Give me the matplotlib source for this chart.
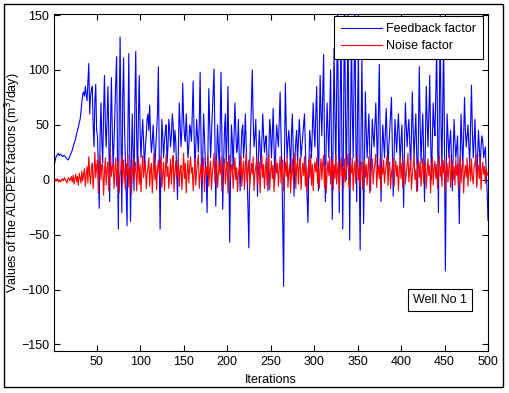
import numpy as np
import matplotlib.pyplot as plt
from matplotlib.patches import Rectangle

plt.rcParams['font.family'] = ['Liberation Sans', 'DejaVu Sans']
plt.rcParams['font.size'] = 9

iterations = np.arange(1, 501)

# feedback factor, one value per iteration (rows of 20)
feedback = [
    12, 16, 20, 22, 23, 24, 22, 23, 23, 22, 21, 22, 22, 21, 20, 19, 18, 19, 21, 23,
    25, 27, 30, 33, 35, 38, 42, 45, 48, 52, 55, 62, 70, 78, 80, 76, 85, 78, 72, 88,
    106, 60, 76, 82, 85, 50, 30, 72, 87, 45, 40, 10, -26, 40, 70, 35, 15, 60, 95, 50,
    30, 55, 85, 40, -20, 50, 93, 45, 10, 35, 60, 90, 112, 20, -45, 60, 130, 40, -30, 75,
    111, 50, 20, -10, -42, 45, 115, 30, -38, 20, 60, 25, -10, 70, 117, 40, 5, 55, 95, 45,
    20, 40, 55, 35, 10, 30, 40, 55, 60, 45, 68, 40, 25, 35, 50, 30, 10, 30, 45, 60,
    103, 20, -45, 15, 55, 40, 20, 35, 45, 50, 15, 30, 55, 45, 30, 40, 60, 50, 25, 45,
    35, 10, -18, 25, 70, 50, 30, 45, 88, 55, 40, 35, 60, 40, 20, 30, 50, 45, 35, 60,
    90, 45, 10, 30, 55, 40, 25, 50, 98, 35, -21, 20, 60, 40, 15, 5, -30, 30, 83, 50,
    20, 40, 60, 80, 101, 35, -24, 20, 50, 30, 10, 45, 98, 40, -27, 15, 45, 60, 15, 40,
    85, 10, -57, 5, 50, 35, 10, 40, 70, 45, 25, 30, 55, 20, -10, 25, 45, 50, 20, 35,
    60, 30, 5, -25, -62, 10, 40, 70, 100, 55, 30, 40, 55, 20, -15, 20, 45, 30, 10, 35,
    60, 40, 25, 35, 40, 15, -10, 25, 55, 45, 20, 40, 65, 30, 0, 30, 50, 40, 30, 55,
    80, 40, 10, -40, -97, 20, 88, 50, 20, 35, 45, 30, 5, 40, 60, 30, -15, 20, 35, 45,
    15, 35, 55, 40, 20, 30, 40, 50, 60, 30, 5, -15, -39, 10, 45, 35, 20, 45, 70, 45,
    30, 60, 85, 40, -10, 45, 95, 60, 40, 80, 114, 30, -20, 35, 70, 45, 20, 60, 100, 30,
    -36, 40, 120, 60, 10, 80, 160, 50, -30, 70, 140, 30, -45, 60, 165, 70, 0, 60, 150, 40,
    -55, 50, 130, 60, 20, 90, 160, 40, -20, 60, 120, 10, -64, 40, 110, 30, -40, 20, 80, 45,
    20, 40, 60, 30, -10, 25, 55, 40, 30, 50, 70, 40, 10, 60, 105, 40, -20, 20, 50, 35,
    20, 45, 65, 35, 10, 30, 45, 60, 75, 30, -15, 20, 55, 40, 25, 45, 60, 40, 15, 35,
    50, 15, -25, 30, 70, 50, 30, 45, 55, 35, 10, 40, 80, 45, 20, 40, 60, 25, -10, 40,
    103, 50, 15, 40, 60, 25, -20, 30, 85, 55, 30, 60, 95, 40, 0, 35, 70, 50, 40, 80,
    120, 40, -30, 60, 150, 50, 10, 70, 130, 20, -83, 10, 60, 40, 20, 35, 45, 20, -10, 25,
    55, 35, 20, 30, 40, 0, -40, 20, 60, 35, 10, 40, 75, 45, 30, 40, 50, 30, 15, 50,
    86, 45, 20, 35, 55, 25, -5, 20, 45, 30, 10, 30, 40, 35, 20, 25, 30, 5, -10, -37,
]

# noise factor, one value per iteration (rows of 20)
noise = [
    0, 1, -1, 0, 1, -2, 0, -1, -2, 0, 1, -1, 2, 0, -1, -3, 1, 2, -1, 0,
    3, -2, 4, -4, 1, 5, -2, 3, -5, 6, 2, -3, 8, -1, 5, 10, -6, 4, 12, -3,
    21, 5, -4, 10, 15, -8, 6, 25, 2, 12, 18, -12, 8, 22, 0, 14, 12, -14, 6, 20,
    -5, 10, 16, -10, 4, 24, 3, 12, 14, -8, 8, 20, -6, 10, 17, -12, 5, 10, 22, -3,
    18, 4, -9, 15, 4, 23, -7, 10, 12, -13, 5, 19, 1, 8, 16, -10, 7, 21, -4, 14,
    -11, 8, 22, 2, 10, 17, -8, 5, 11, 20, -6, 9, 15, -12, 6, 24, 0, 13, -9, 10,
    18, 5, 10, 21, -7, 6, 16, -10, 8, 23, 3, 12, -8, 4, 19, -4, 14, 22, -11, 7,
    17, 2, 10, 20, -6, 8, 13, -9, 5, 24, 1, 15, -12, 6, 18, -3, 12, 21, 6, 11,
    -10, 5, 19, -5, 8, 16, 23, -8, 4, 14, 0, 10, 20, -11, 7, 12, 4, 22, -6, 10,
    17, -9, 6, 13, 24, -2, 9, 18, -7, 5, 15, 5, 21, -10, 8, 12, 19, -4, 10, 16,
    -12, 7, 22, 2, 12, 14, -8, 6, 20, 0, 11, -11, 6, 12, 4, 22, -6, 9, 17, -9,
    13, 24, -2, 8, 18, -7, 5, 15, 5, 21, -10, 6, 12, 19, -4, 8, 16, -12, 10, 22,
    2, 14, -8, 9, 20, -5, 11, 23, -9, 7, 17, 1, 13, -11, 8, 19, 6, 15, -6, 10,
    21, -3, 12, 18, -10, 6, 16, 3, 22, -7, 8, 14, -12, 5, 19, 0, 10, 24, -8, 12,
    17, -4, 13, 20, -9, 6, 15, 4, 21, -6, 11, -11, 8, 18, 2, 23, -5, 14, -10, 9,
    16, 7, 20, -3, 12, -8, 10, 19, 0, 15, 22, -7, 13, -12, 6, 17, 4, 21, -4, 11,
    18, -9, 14, 1, 23, -4, 9, 16, -11, 10, 20, 3, 12, -7, 19, -2, 8, 15, 24, -6,
    -8, 13, 6, 20, -10, 9, 17, -3, 11, 22, 0, 11, -6, 14, 16, -9, 7, 18, 2, 14,
    -5, 10, 21, -12, 6, 12, 19, -4, 9, 15, 23, -7, 8, 13, 1, 20, -9, 11, 5, 18,
    -3, 7, 14, 22, -5, 10, 16, -8, 6, 12, 20, -6, 9, 17, 3, 13, -10, 8, 21, 1,
    15, -7, 11, 19, -4, 6, 13, 24, -2, 10, 17, -9, 5, 14, 22, 0, 9, -11, 12, 18,
    2, 16, -6, 8, 20, -3, 11, 15, -8, 7, 19, 4, 13, -12, 9, 21, -5, 10, 17, 1,
    14, -8, 10, 22, 3, 12, -6, 18, 6, 20, -10, 8, 15, -2, 11, 23, -7, 9, 16, 0,
    12, -5, 19, 4, 14, -9, 8, 21, -3, 11, 17, -12, 6, 13, 2, 20, -6, 10, 15, -1,
    19, 3, -4, 12, 15, 23, -7, 9, 13, 1, 20, -9, 8, 16, 5, 12, -3, 10, 6, 4,
]

x_ticks = [50, 100, 150, 200, 250, 300, 350, 400, 450, 500]
y_ticks = [-150, -100, -50, 0, 50, 100, 150]

fig = plt.figure(figsize=(5.09, 3.93), dpi=100)
fig.patch.set_facecolor('white')
# outer frame round the whole figure
fig.patches.append(Rectangle((4 / 509, 6 / 393), 499 / 509, 383 / 393, transform=fig.transFigure,
                             fill=False, edgecolor='black', linewidth=1))

ax = fig.add_axes([54 / 509, 42 / 393, 434 / 509, 337 / 393])
ax.plot(iterations, feedback, color=(0, 0, 1), lw=0.8, label='Feedback factor')
ax.plot(iterations, noise, color=(1, 0, 0), lw=0.8, label='Noise factor')

ax.set_xlim(1, 500)
ax.set_ylim(-156, 151)
ax.set_xticks(x_ticks)
ax.set_yticks(y_ticks)
ax.tick_params(direction='in', top=True, right=True, length=4, width=0.8, labelsize=9)
for s in ax.spines.values():
    s.set_linewidth(0.8)

ax.set_xlabel('Iterations', fontsize=9)
ax.set_ylabel('Values of the ALOPEX factors (m$^3$/day)', fontsize=9)
ax.xaxis.set_label_coords(0.5, -0.068)
ax.yaxis.set_label_coords(-0.071, 0.5)

leg = ax.legend(loc='upper right', bbox_to_anchor=(483 / 509, 1 - 16 / 393),
                bbox_transform=fig.transFigure, fancybox=False, framealpha=1,
                edgecolor='black', handlelength=3.3, handletextpad=0.35,
                borderpad=0.55, labelspacing=0.4, borderaxespad=0, fontsize=9)
leg.get_frame().set_linewidth(0.8)

ax.text(440 / 509, 1 - 300 / 393, 'Well No 1', transform=fig.transFigure, ha='center', va='center',
        fontsize=9, bbox=dict(boxstyle='square,pad=0.4', facecolor='white', edgecolor='black', linewidth=0.8))

fig.savefig('out.png', dpi=100)
